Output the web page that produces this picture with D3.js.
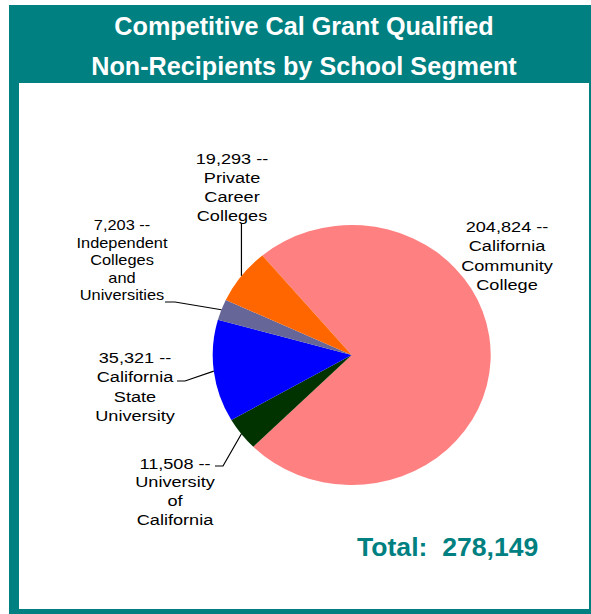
<!DOCTYPE html>
<html>
<head>
<meta charset="utf-8">
<script src="https://cdn.jsdelivr.net/npm/d3@7"></script>
<style>
  html, body { margin: 0; padding: 0; background: #fff; }
  svg { display: block; }
  text { font-family: "Liberation Sans", Arial, sans-serif; }
</style>
</head>
<body>
<svg id="chart" width="591" height="614"></svg>
<script>
// ---- Data ----
const titleLines = ["Competitive Cal Grant Qualified", "Non-Recipients by School Segment"];
const categories = ["California Community College", "University of California", "California State University", "Independent Colleges and Universities", "Private Career Colleges"];
const values = [204824, 11508, 35321, 7203, 19293];
const colors = ["#FF8080", "#003300", "#0000FF", "#666699", "#FF6600"];
const labelLines = [
  ["204,824 --", "California", "Community", "College"],
  ["11,508 --", "University", "of", "California"],
  ["35,321 --", "California", "State", "University"],
  ["7,203 --", "Independent", "Colleges", "and", "Universities"],
  ["19,293 --", "Private", "Career", "Colleges"]
];
const totalLabel = "Total:  278,149";

// ---- Layout ----
const W = 591, H = 614;
const teal = "#008080";
const cx = 351.7, cy = 355, rx = 139, ry = 130;

const svg = d3.select("#chart");

// frame
svg.append("rect").attr("x", 9).attr("y", 5).attr("width", 582).attr("height", 609).attr("fill", teal);
svg.append("rect").attr("x", 19).attr("y", 83).attr("width", 570).attr("height", 526).attr("fill", "#fff");

// title
svg.selectAll("text.title").data(titleLines).join("text")
  .attr("class", "title")
  .attr("x", 304)
  .attr("y", (d, i) => 35 + i * 40)
  .attr("text-anchor", "middle")
  .attr("fill", "#fff")
  .attr("font-weight", "bold")
  .attr("font-size", 25.2)
  .text(d => d);

// pie
const deg = Math.PI / 180;
const pie = d3.pie().sort(null).startAngle(-40 * deg).endAngle(320 * deg);
const arcs = pie(values);
const arc = d3.arc().innerRadius(0).outerRadius(rx);

const g = svg.append("g").attr("transform", `translate(${cx},${cy}) scale(1,${ry / rx})`);
g.selectAll("path").data(arcs).join("path")
  .attr("d", arc)
  .attr("fill", (d, i) => colors[i]);

// edge point of slice mid angle (on ellipse)
function edge(a) {
  const m = (a.startAngle + a.endAngle) / 2;
  return [cx + rx * Math.sin(m), cy - ry * Math.cos(m)];
}

// labels layout: [centerX, firstLineCenterY, lineSpacing, fontSize]
const labelLayout = [
  [507, 226, 19.6, 15.5],
  [175, 463, 18.8, 15.5],
  [135, 357, 19.6, 15.5],
  [122, 225, 17.6, 14],
  [232, 158, 19.3, 15.5]
];
// leader start points (label side)
const leaderStart = [
  null,
  [[215, 466], [223, 466]],
  [[177, 381], [185, 381]],
  [[165, 302], [175, 302]],
  [[242, 223]]
];

labelLines.forEach((lines, i) => {
  const [lx, ly, sp, fs] = labelLayout[i];
  const lg = svg.append("g").attr("transform", `translate(${lx},0) scale(1.17,1)`);
  lg.selectAll("text").data(lines).join("text")
    .attr("x", 0)
    .attr("y", (d, j) => ly + j * sp)
    .attr("dy", "0.36em")
    .attr("text-anchor", "middle")
    .attr("font-size", fs)
    .attr("fill", "#000")
    .text(d => d);
  if (leaderStart[i]) {
    const e = edge(arcs[i]);
    let pts = leaderStart[i].concat([e]);
    if (i === 4) pts = [[e[0], 223], e];
    svg.append("path")
      .attr("d", d3.line()(pts))
      .attr("fill", "none")
      .attr("stroke", "#000")
      .attr("stroke-width", 1.2);
  }
});

// total
svg.append("text")
  .attr("x", 357)
  .attr("y", 556)
  .attr("fill", teal)
  .attr("font-weight", "bold")
  .attr("font-size", 26.6)
  .style("white-space", "pre")
  .text(totalLabel);
</script>
</body>
</html>
